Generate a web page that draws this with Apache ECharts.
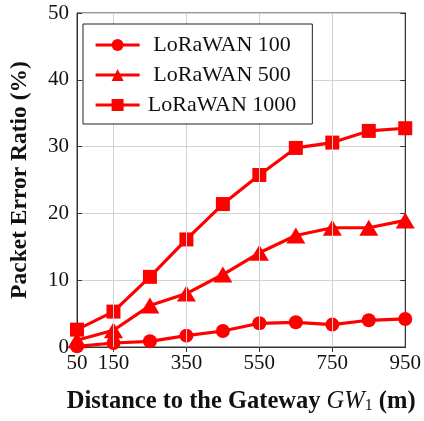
<!DOCTYPE html>
<html><head><meta charset="utf-8">
<script src="https://cdn.jsdelivr.net/npm/echarts@6/dist/echarts.min.js"></script>
<style>html,body{margin:0;padding:0;background:#fff}#c{width:424px;height:421px}</style>
</head><body><div id="c"></div>
<script>
const distances = [50,150,250,350,450,550,650,750,850,950];
const xTickLabels = [50,150,350,550,750,950];
const xGridLines = [150,350,550,750];
const lora100 = [0.1,0.6,0.85,1.7,2.4,3.55,3.7,3.35,4.0,4.2];
const lora500 = [1.0,2.5,6.2,8.0,10.85,14.1,16.7,17.85,17.85,18.95];
const lora1000 = [2.6,5.3,10.5,16.1,21.4,25.75,29.8,30.6,32.35,32.75];
const seriesNames = ['LoRaWAN 100','LoRaWAN 500','LoRaWAN 1000'];

const font = 'Liberation Serif, DejaVu Serif, serif';
const red = '#ff0000';
const frame = '#333';
function pairs(vals){ return distances.map((d,i)=>[d, vals[i]]); }
function mk(name, vals, symbol, size){
  return {name, type:'line', data:pairs(vals), symbol, symbolSize:size, clip:false,
    lineStyle:{color:red,width:3.2}, itemStyle:{color:red}, z:3, animation:false};
}
const chart = echarts.init(document.getElementById('c'), null, {renderer:'canvas'});
chart.setOption({
  animation:false,
  grid:{left:73, right:17, top:13, bottom:74, show:true, borderColor:frame, borderWidth:1, backgroundColor:'transparent'},
  legend:{orient:'vertical', left:83, top:24, padding:[10,16,8,11], itemGap:8, itemTextGap:8,
    itemWidth:44, itemHeight:15, borderColor:'#222', borderWidth:1, backgroundColor:'#fff',
    lineStyle:{width:3.2},
    data:seriesNames,
    formatter:n=>'{t|'+n+'}',
    textStyle:{fontFamily:font, fontSize:22, color:'#111',
      rich:{t:{fontFamily:font, fontSize:22, color:'#111', width:155, align:'center'}}}, z:10},
  xAxis:[{type:'value', min:50, max:950, interval:100,
    name:'{b|Distance to the Gateway }{i|GW}{s|1}{b| (m)}', nameLocation:'middle', nameGap:42,
    nameTextStyle:{rich:{
      b:{fontFamily:font, fontSize:24.5, fontWeight:'bold', color:'#111'},
      i:{fontFamily:font, fontSize:24.5, fontStyle:'italic', color:'#111'},
      s:{fontFamily:font, fontSize:16, color:'#111', verticalAlign:'bottom', padding:[9,0,0,0]}}},
    axisLine:{show:true, lineStyle:{color:frame}},
    axisTick:{show:true, inside:true, length:5, customValues:xTickLabels, lineStyle:{color:frame}},
    axisLabel:{customValues:xTickLabels, fontFamily:font, fontSize:21, color:'#111', margin:6,
      formatter:v=> xTickLabels.indexOf(v)>=0 ? String(v) : ''},
    splitLine:{show:false}},
   {type:'value', position:'top', min:50, max:950, interval:100,
    axisLine:{show:true, lineStyle:{color:frame}},
    axisTick:{show:true, inside:true, length:5, customValues:xGridLines, lineStyle:{color:frame}},
    axisLabel:{show:false}, splitLine:{show:false}}],
  yAxis:[{type:'value', min:0, max:50, interval:10,
    name:'Packet Error Ratio (%)', nameLocation:'middle', nameGap:45,
    nameTextStyle:{fontFamily:font, fontSize:23.5, fontWeight:'bold', color:'#111'},
    axisLine:{show:true, lineStyle:{color:frame}},
    axisTick:{show:true, inside:true, length:5, lineStyle:{color:frame}},
    axisLabel:{fontFamily:font, fontSize:21, color:'#111', margin:8},
    splitLine:{show:true, lineStyle:{color:'#d2d2d2', width:1}}},
   {type:'value', position:'right', min:0, max:50, interval:10,
    axisLine:{show:true, lineStyle:{color:frame}},
    axisTick:{show:true, inside:true, length:5, lineStyle:{color:frame}},
    axisLabel:{show:false}, splitLine:{show:false}}],
  series:[
    {name:'grid', type:'line', data:[], z:1, silent:true,
     markLine:{silent:true, symbol:'none', label:{show:false}, animation:false,
       lineStyle:{color:'#d2d2d2', width:1, type:'solid'},
       data:xGridLines.map(v=>({xAxis:v}))}},
    mk(seriesNames[0], lora100, 'circle', 14),
    mk(seriesNames[1], lora500, 'triangle', [19,16]),
    mk(seriesNames[2], lora1000, 'rect', 14)
  ]
});
</script></body></html>
